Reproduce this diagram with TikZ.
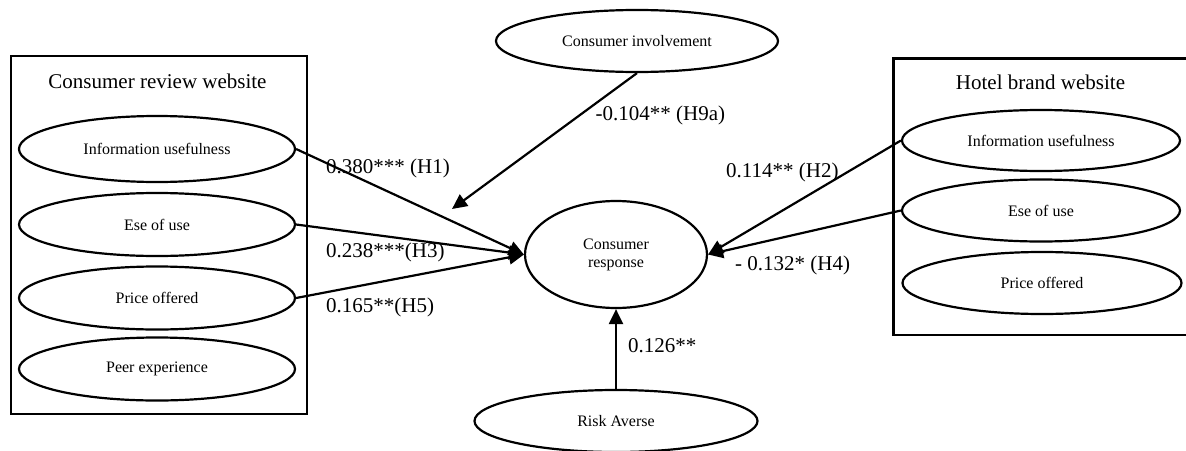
\documentclass[tikz,border=0pt]{standalone}
\usepackage{fontspec}
\setmainfont{Liberation Serif}
\usetikzlibrary{shapes.geometric,arrows.meta}
\begin{document}
\begin{tikzpicture}[x=1pt,y=-1pt]
\tikzset{
  oval/.style={ellipse, draw, line width=2.2pt, inner sep=0pt, font=\fontsize{16}{18}\selectfont, align=center},
  grp/.style={draw, line width=2.2pt, inner sep=0pt, anchor=north west},
  ttl/.style={font=\fontsize{21}{25}\selectfont, inner sep=0pt},
  lbl/.style={font=\fontsize{21}{25}\selectfont, inner sep=0pt, anchor=west},
  arr/.style={line width=2.2pt, -{Triangle[length=15pt,width=14pt]}}
}
\useasboundingbox (0,0) rectangle (1186,450);
\clip (0,0) rectangle (1186,450);

% group boxes
\node[grp, minimum width=296.4pt, minimum height=357.7pt] (LBox) at (9.6,55) {};
\node[grp, minimum width=295.7pt, minimum height=276.7pt] (HBox) at (892.3,57.3) {};
\node[ttl] (LTitle) at (157.5,81) {Consumer review website};
\node[ttl] (HTitle) at (1040.5,82) {Hotel brand website};

% left ellipses
\node[oval, minimum width=276pt, minimum height=66pt] (LInfo) at (157,149) {Information usefulness};
\node[oval, minimum width=276pt, minimum height=63pt] (LEse) at (157,224.5) {Ese of use};
\node[oval, minimum width=276pt, minimum height=63pt] (LPrice) at (157,298) {Price offered};
\node[oval, minimum width=276pt, minimum height=63pt] (LPeer) at (157,369) {Peer experience};

% hotel ellipses
\node[oval, minimum width=278pt, minimum height=61pt] (HInfo) at (1041,140.5) {Information usefulness};
\node[oval, minimum width=278pt, minimum height=62pt] (HEse) at (1041,210.5) {Ese of use};
\node[oval, minimum width=279pt, minimum height=62pt] (HPrice) at (1042,283) {Price offered};

% centre
\node[oval, minimum width=282pt, minimum height=62pt] (CI) at (637,41) {Consumer involvement};
\node[oval, minimum width=182pt, minimum height=107pt] (CR) at (616,254.5) {Consumer\\response};
\node[oval, minimum width=283pt, minimum height=62pt] (RA) at (616,421) {Risk Averse};
\coordinate (Mod) at (452,209);

% connectors
\draw[arr] (LInfo.east) -- (CR.west);
\draw[arr] (LEse.east) -- (CR.west);
\draw[arr] (LPrice.east) -- (CR.west);
\draw[arr] (CI.south) -- (Mod);
\draw[arr] (HInfo.west) -- (CR.east);
\draw[arr] (HEse.west) -- (CR.east);
\draw[arr] (RA.north) -- (CR.south);

% labels
\node[lbl] (L1) at (326,168) {0.380*** (H1)};
\node[lbl] (L3) at (326,252) {0.238***(H3)};
\node[lbl] (L5) at (326,307) {0.165**(H5)};
\node[lbl] (L9) at (595.5,115) {-0.104** (H9a)};
\node[lbl] (L2) at (726,172) {0.114** (H2)};
\node[lbl] (L4) at (735,265) {- 0.132* (H4)};
\node[lbl] (LR) at (628,346) {0.126**};
\end{tikzpicture}
\end{document}
